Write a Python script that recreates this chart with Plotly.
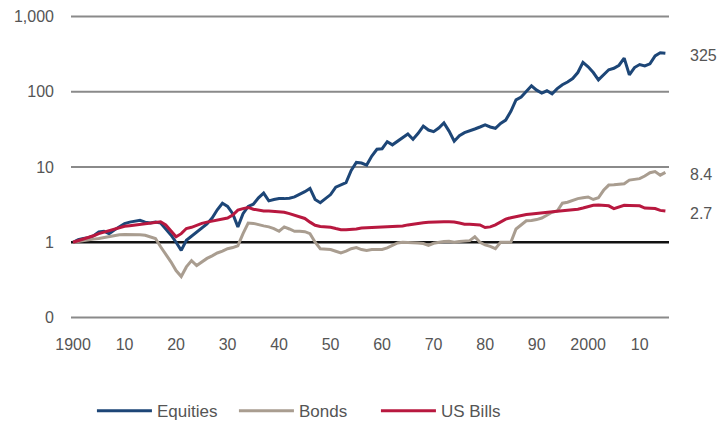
import math
import plotly.graph_objects as go

years = list(range(1900, 2016))

equities = [
    1.00, 1.08, 1.12, 1.15, 1.22, 1.37, 1.40, 1.30, 1.45, 1.60,
    1.77, 1.85, 1.90, 1.96, 1.85, 1.80, 1.85, 1.80, 1.50, 1.25,
    1.00, 0.78, 1.06, 1.20, 1.35, 1.52, 1.75, 2.10, 2.70, 3.30,
    3.00, 2.40, 1.60, 2.40, 3.00, 3.20, 3.90, 4.50, 3.55, 3.70,
    3.80, 3.80, 3.85, 4.00, 4.30, 4.70, 5.20, 3.70, 3.35, 3.80,
    4.30, 5.40, 5.80, 6.20, 9.00, 11.5, 11.3, 10.6, 14.0, 17.2,
    17.5, 21.7, 19.7, 22.0, 24.0, 27.5, 23.4, 28.0, 35.0, 31.0,
    29.5, 33.0, 38.5, 30.0, 22.0, 26.0, 28.6, 30.0, 32.0, 34.0,
    36.3, 34.0, 32.7, 38.0, 42.0, 55.0, 78.0, 85.0, 100.0, 120.0,
    105.0, 96.0, 103.0, 94.0, 110.0, 124.0, 135.0, 150.0, 180.0, 246.0,
    215.0, 180.0, 144.0, 170.0, 196.0, 205.0, 225.0, 280.0, 168.0, 210.0,
    230.0, 220.0, 235.0, 300.0, 330.0, 325.0,
]

bonds = [
    1.00, 1.03, 1.05, 1.07, 1.10, 1.12, 1.15, 1.18, 1.24, 1.26,
    1.27, 1.27, 1.27, 1.26, 1.24, 1.18, 1.12, 0.87, 0.70, 0.55,
    0.42, 0.35, 0.47, 0.57, 0.49, 0.55, 0.61, 0.66, 0.72, 0.76,
    0.82, 0.85, 0.90, 1.30, 1.80, 1.78, 1.70, 1.65, 1.60, 1.52,
    1.40, 1.60, 1.50, 1.40, 1.40, 1.38, 1.30, 1.00, 0.82, 0.81,
    0.80, 0.76, 0.72, 0.76, 0.82, 0.85, 0.80, 0.78, 0.80, 0.80,
    0.80, 0.84, 0.90, 0.98, 1.00, 1.00, 1.00, 0.98, 0.96, 0.91,
    0.97, 1.00, 1.02, 1.03, 1.00, 1.02, 1.04, 1.05, 1.18, 1.00,
    0.92, 0.88, 0.82, 1.00, 1.00, 1.00, 1.50, 1.68, 1.93, 1.95,
    2.00, 2.10, 2.29, 2.50, 2.60, 3.30, 3.40, 3.60, 3.80, 3.90,
    4.00, 3.70, 3.90, 4.90, 5.75, 5.80, 5.90, 6.00, 6.70, 6.80,
    7.00, 7.60, 8.40, 8.70, 7.80, 8.50,
]

us_bills = [
    1.00, 1.05, 1.09, 1.14, 1.22, 1.30, 1.36, 1.42, 1.50, 1.57,
    1.63, 1.66, 1.70, 1.74, 1.78, 1.80, 1.85, 1.87, 1.70, 1.40,
    1.18, 1.30, 1.52, 1.58, 1.68, 1.78, 1.85, 1.90, 1.95, 2.00,
    2.10, 2.30, 2.67, 2.80, 2.90, 2.75, 2.65, 2.60, 2.60, 2.58,
    2.55, 2.50, 2.40, 2.30, 2.20, 2.07, 1.85, 1.68, 1.62, 1.60,
    1.58, 1.52, 1.47, 1.47, 1.48, 1.50, 1.55, 1.56, 1.57, 1.58,
    1.58, 1.59, 1.60, 1.60, 1.64, 1.70, 1.75, 1.80, 1.82, 1.84,
    1.86, 1.87, 1.87, 1.87, 1.86, 1.80, 1.74, 1.73, 1.72, 1.70,
    1.57, 1.60, 1.70, 1.85, 2.03, 2.12, 2.20, 2.29, 2.33, 2.37,
    2.40, 2.45, 2.48, 2.52, 2.58, 2.62, 2.66, 2.70, 2.75, 2.85,
    2.95, 3.10, 3.12, 3.10, 3.05, 2.80, 2.95, 3.10, 3.08, 3.05,
    3.05, 2.85, 2.80, 2.80, 2.65, 2.60,
]

series_names = ["Equities", "Bonds", "US Bills"]
end_labels = ["325", "8.4", "2.7"]

y_tickvals = [0.1, 1, 10, 100, 1000]
y_ticktext = ["0", "1", "10", "100", "1,000"]
x_tickvals = [1900, 1910, 1920, 1930, 1940, 1950, 1960, 1970, 1980, 1990, 2000, 2010]
x_ticktext = ["1900", "10", "20", "30", "40", "50", "60", "70", "80", "90", "2000", "10"]

colors = ["#1d4677", "#a99d90", "#b8183f"]
FONT = "Liberation Sans, Arial, sans-serif"
TXT = "#555555"
FS = 16

fig = go.Figure()

all_series = [equities, bonds, us_bills]
for name, vals, col in zip(series_names, all_series, colors):
    fig.add_trace(go.Scatter(
        x=years, y=vals, mode="lines", name=name,
        line=dict(color=col, width=3),
    ))

# Horizontal grid lines at the tick values (black at 1), beneath the series
for v in y_tickvals:
    if v == 1:
        fig.add_hline(y=v, line=dict(color="#111111", width=2.5), layer="below")
    else:
        fig.add_hline(y=v, line=dict(color="#8a8a8a", width=2), layer="below")

for txt, vals in zip(end_labels, all_series):
    fig.add_annotation(
        x=1.031, xref="paper", y=math.log10(vals[-1]), yref="y",
        text=txt, showarrow=False, xanchor="left", yanchor="middle", yshift=-2,
        font=dict(family=FONT, size=FS, color=TXT),
    )

fig.update_layout(
    width=723, height=421,
    margin=dict(l=71, r=54, t=15, b=102, autoexpand=False),
    paper_bgcolor="white", plot_bgcolor="white",
    font=dict(family=FONT, size=FS, color=TXT),
    showlegend=True,
    legend=dict(
        orientation="h", x=0.035, xanchor="left", y=-0.303, yanchor="middle",
        font=dict(family=FONT, size=17, color=TXT),
        itemwidth=55, entrywidth=72, traceorder="normal",
    ),
)

fig.update_xaxes(
    range=[1899.6, 2015.7],
    tickvals=x_tickvals, ticktext=x_ticktext,
    showgrid=False, zeroline=False, showline=False,
    ticks="", ticklabelstandoff=14,
    tickfont=dict(family=FONT, size=FS, color=TXT),
)

fig.update_yaxes(
    type="log", range=[-1.02, 3.02],
    tickvals=y_tickvals, ticktext=y_ticktext,
    showgrid=False,
    zeroline=False, showline=False, ticks="",
    ticklabelstandoff=16,
    tickfont=dict(family=FONT, size=FS, color=TXT),
)

fig.write_html(
    "out.html",
    config={"displayModeBar": False},
    post_script="document.body.style.margin='0';document.body.style.padding='0';",
)
